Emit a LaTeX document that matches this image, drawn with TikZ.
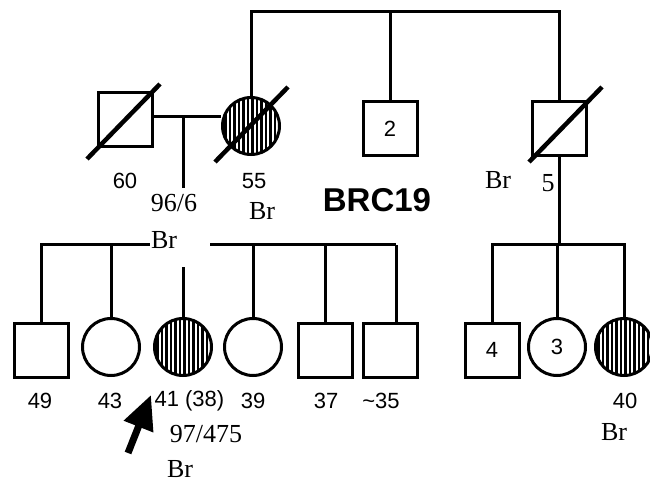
\documentclass[tikz,border=0pt]{standalone}
\usepackage{fontspec}
\setmainfont{Liberation Serif}
\setsansfont{Liberation Sans}
\usetikzlibrary{arrows.meta,calc}

\newcommand{\agefont}{\fontsize{22}{24}\selectfont\sffamily}
\newcommand{\notefont}{\fontsize{26}{28}\selectfont\rmfamily}

\tikzset{
  male/.style={draw, line width=3pt, minimum size=54pt, inner sep=0pt, font=\agefont},
  female/.style={draw, circle, line width=3pt, minimum size=57pt, inner sep=0pt, font=\agefont},
  hatched/.style={path picture={
      \foreach \i in {-30,-25.5,...,30}
        \draw[line width=2.3pt] ([xshift=\i pt]path picture bounding box.north)
          -- ([xshift=\i pt]path picture bounding box.south);}},
  link/.style={line width=3pt},
  deceased/.style={line width=4.5pt},
  age/.style={font=\agefont},
  note/.style={font=\notefont},
}

\begin{document}
\begin{tikzpicture}[x=1pt,y=-1pt]
  \useasboundingbox (0,0) rectangle (650,486);

  % Grandparents and their generation
  \node[male] (f60) at (125,120) {};
  \node[female, hatched] (m55) at (251,126) {};
  \node[male] (s2) at (390,129) {2};
  \node[male] (b5) at (559,129) {};

  \draw[deceased] ($(f60.center)+(-38,39)$) -- ($(f60.center)+(35,-36)$);
  \draw[deceased] ($(m55.center)+(-36,36)$) -- ($(m55.center)+(37,-39)$);
  \draw[deceased] ($(b5.center)+(-30,33)$) -- ($(b5.center)+(43,-42)$);

  % Sibship line at the top
  \coordinate (tl) at (251,12);
  \coordinate (tr) at (559,12);
  \draw[link] (m55.north) -- (tl) -- (tr) -- (b5.north);
  \draw[link] (s2.north) -- (s2.north |- tl);

  % Marriage and line of descent
  \coordinate (mar) at (183,117);
  \coordinate (desc) at (183,188);
  \draw[link] (f60.east |- mar) -- (m55.west |- mar);
  \draw[link] (mar) -- (desc);

  \node[age] (l60) at (125,181) {60};
  \node[note] (l966) at (174,203) {96/6};
  \node[age] (l55) at (254,181) {55};
  \node[note] (lbr55) at (262,211) {Br};
  \node[note] (lbr5) at (498,180) {Br};
  \node[note] (l5) at (548,183) {5};
  \node[font=\fontsize{33}{35}\selectfont\sffamily\bfseries] (title) at (377,200) {BRC19};

  % Children, left family
  \node[male] (c49) at (41,350) {};
  \node[female] (c43) at (111,347) {};
  \node[female, hatched] (c41) at (183,347) {};
  \node[female] (c39) at (253,347) {};
  \node[male] (c37) at (325,350) {};
  \node[male] (c35) at (390,350) {};

  \node[note] (lbrsib) at (164,240) {Br};
  \coordinate (sibl) at (40,245);
  \coordinate (sibm) at (150,245);
  \coordinate (sibn) at (210,245);
  \coordinate (sibr) at (396,245);
  \coordinate (c41up) at (183,267);
  \draw[link] (sibl) -- (sibm);
  \draw[link] (sibn) -- (sibr);
  \draw[link] (c49.north) -- (c49.north |- sibl);
  \draw[link] (c43.north) -- (c43.north |- sibl);
  \draw[link] (c41.north) -- (c41up);
  \draw[link] (c39.north) -- (c39.north |- sibl);
  \draw[link] (c37.north) -- (c37.north |- sibl);
  \draw[link] ([xshift=6pt]c35.north) -- (sibr);

  \node[age] (l49) at (40,401) {49};
  \node[age] (l43) at (110,401) {43};
  \node[age, anchor=west] (l41) at (151,401) {41 (38)};
  \node[age] (l39) at (253,401) {39};
  \node[age] (l37) at (326,401) {37};
  \node[age] (l35) at (381,401) {\char`\~35};
  \node[note] (l97) at (206,434) {97/475};
  \node[note] (lbr41) at (180,469) {Br};

  % Proband arrow
  \coordinate (tail) at (128,453);
  \coordinate (tip) at (151,395);
  \draw[line width=7pt, -{Triangle[length=34pt,width=30pt]}] (tail) -- (tip);

  % Children, right family
  \node[male] (c4) at (492,350) {4};
  \node[female] (c3) at (557,347) {3};
  \node[female, hatched] (c40) at (624,347) {};

  \coordinate (rsl) at (491,245);
  \coordinate (rsm) at (559,245);
  \coordinate (rsr) at (626,245);
  \draw[link] (b5.south) -- (rsm);
  \draw[link] (rsl) -- (rsr);
  \draw[link] (c4.north) -- (c4.north |- rsl);
  \draw[link] (c3.north) -- (c3.north |- rsl);
  \draw[link] (c40.north) -- (c40.north |- rsl);

  \node[age] (l40) at (625,401) {40};
  \node[note] (lbr40) at (614,432) {Br};
\end{tikzpicture}
\end{document}
